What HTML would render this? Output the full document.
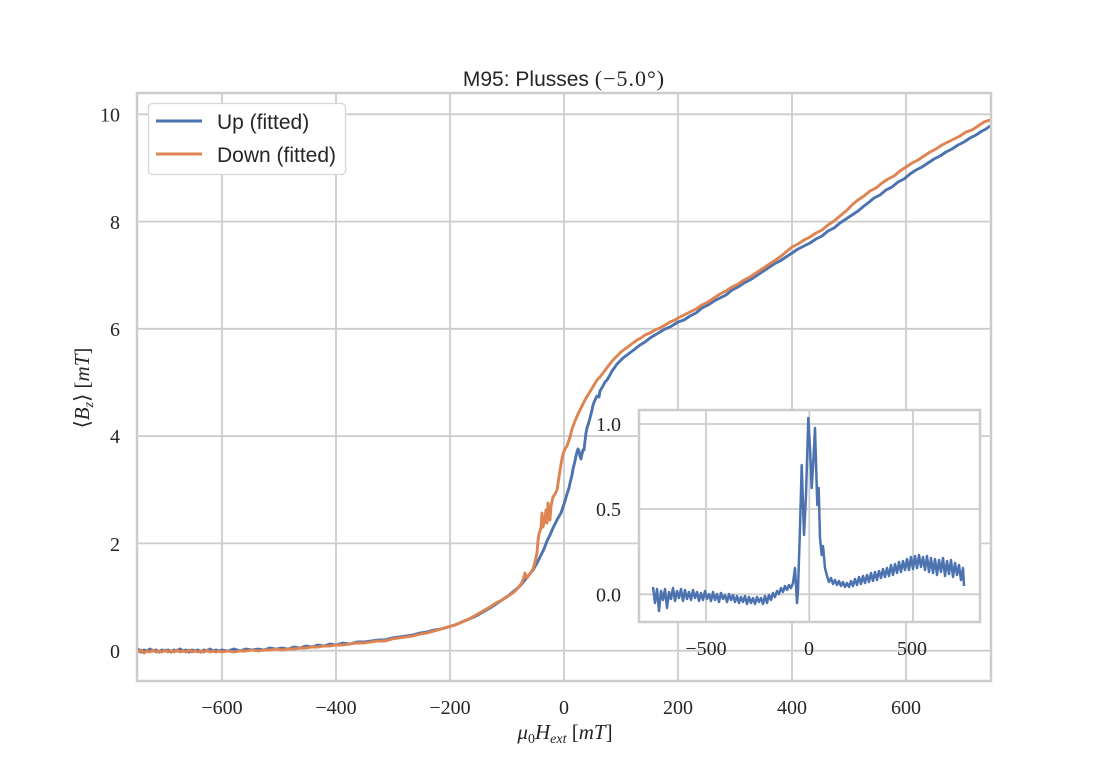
<!DOCTYPE html>
<html>
<head>
<meta charset="utf-8">
<style>
  html, body { margin: 0; padding: 0; background: #ffffff; }
  svg { display: block; }
  .tick { font-family: "Liberation Serif", "DejaVu Serif", serif; font-size: 20px; fill: #262626; }
  .sans { font-family: "Liberation Sans", "DejaVu Sans", sans-serif; fill: #262626; }
  .serif { font-family: "Liberation Serif", "DejaVu Serif", serif; fill: #262626; }
</style>
</head>
<body>
<svg width="1101" height="779" viewBox="0 0 1101 779" xmlns="http://www.w3.org/2000/svg">
  <rect x="0" y="0" width="1101" height="779" fill="#ffffff"/>
  <defs>
    <clipPath id="mainclip"><rect x="137" y="93" width="854" height="588"/></clipPath>
  </defs>

  <!-- main grid -->
  <g stroke="#cccccc" stroke-width="1.8" fill="none">
    <line x1="222" y1="93" x2="222" y2="681"/>
    <line x1="336" y1="93" x2="336" y2="681"/>
    <line x1="450" y1="93" x2="450" y2="681"/>
    <line x1="564" y1="93" x2="564" y2="681"/>
    <line x1="678" y1="93" x2="678" y2="681"/>
    <line x1="792" y1="93" x2="792" y2="681"/>
    <line x1="906" y1="93" x2="906" y2="681"/>
    <line x1="137" y1="650.7" x2="991" y2="650.7"/>
    <line x1="137" y1="543.4" x2="991" y2="543.4"/>
    <line x1="137" y1="436.1" x2="991" y2="436.1"/>
    <line x1="137" y1="328.8" x2="991" y2="328.8"/>
    <line x1="137" y1="221.6" x2="991" y2="221.6"/>
    <line x1="137" y1="114.3" x2="991" y2="114.3"/>
  </g>

  <!-- main curves -->
  <g clip-path="url(#mainclip)" fill="none" stroke-width="2.9" stroke-linejoin="round" stroke-linecap="round">
    <polyline stroke="#4C72B0" points="138,649 141,652 144,650 147,651 150,649 153,651 156,650 159,652 162,650 165,651 168,650 171,652 174,650 177,651 180,649 183,651 186,650 189,652 192,650 195,651 198,650 201,652 204,650 207,651 210,649 213,651 216,650 219,651 222,650 228,651 234,649 240,651 246,649 252,650 258,649 264,650 270,648 276,649 282,648 288,649 294,647 300,648 306,646 312,647 318,645 324,646 330,644 336,645 343,643 350,644 357,642 364,642 371,641 378,640 385,640 392,638 399,637 406,636 413,635 420,633 427,632 434,630 441,629 448,627 455,625 462,622 469,619 476,616 483,612 490,608 496,604 502,600 508,596 514,591 520,586 525,580 529,575 533,570 537,563 540,557 544,549 547,541 550,535 553,528 556,522 558,518 561,513 563,507 565,501 567,494 569,488 570,483 572,475 573,469 575,461 576,456 577,452 578,449 579,451 580,456 581,459 582,454 583,450 584,450 585,441 586,433 587,428 588,425 590,418 592,410 593,405 595,400 597,396 599,397 600,391 603,386 605,382 607,380 610,375 612,371 615,367 617,364 620,361 623,358 627,355 631,352 635,349 640,345 645,342 650,338 655,335 660,332 665,329 670,327 675,324 678,322 684,320 690,316 696,313 702,308 708,305 714,301 720,298 726,295 732,290 738,287 744,283 750,280 756,276 762,272 768,268 774,264 780,261 786,257 792,253 798,249 804,246 810,243 816,239 822,236 828,231 834,228 840,223 846,219 852,215 858,211 864,206 868,203 874,198 880,195 886,190 892,187 898,182 904,179 910,174 916,170 922,167 928,163 934,159 940,156 946,152 952,149 958,145 964,142 970,138 976,135 982,131 986,129 990,126"/>
    <polyline stroke="#DD8452" points="138,652 141,650 144,653 147,651 150,652 153,650 156,652 159,651 162,652 165,650 168,652 171,651 174,652 177,650 180,652 183,651 186,652 189,650 192,652 195,651 198,652 201,651 204,652 207,650 210,652 213,651 216,652 219,651 222,652 228,651 234,652 240,651 246,651 252,650 258,651 264,650 270,650 276,649 282,650 288,649 294,649 300,648 306,648 312,647 318,647 324,646 330,646 336,645 343,645 350,644 357,643 364,643 371,642 378,641 385,641 392,639 399,638 406,637 413,636 420,634 427,633 434,631 441,629 448,627 455,625 462,622 469,619 476,615 483,611 490,607 496,603 502,600 508,596 513,593 518,588 521,584 523,580 525,573 527,578 529,575 531,572 533,569 535,562 537,553 538,541 539,534 541,528 542,513 543,527 545,518 546,510 547,523 548,503 550,520 551,506 553,497 555,494 557,490 559,477 561,464 563,454 565,449 567,446 568,443 570,437 572,429 575,421 578,414 581,408 585,400 588,395 591,390 594,385 597,380 600,377 603,373 606,369 609,365 613,360 617,356 621,352 625,349 629,346 633,343 637,340 641,338 645,335 650,333 655,330 660,328 665,325 670,322 675,320 678,318 684,315 690,312 696,309 702,305 708,302 714,298 720,294 726,291 732,287 738,284 744,280 750,277 756,273 762,269 768,265 774,261 780,257 786,252 792,247 798,244 804,240 810,237 816,233 822,230 828,225 834,221 840,216 846,211 850,207 853,204 858,200 864,196 870,191 876,188 882,183 888,179 894,176 900,171 906,167 912,163 918,160 924,156 930,152 936,149 942,145 948,142 954,139 960,136 966,132 972,130 978,126 984,122 990,120"/>
  </g>

  <!-- main frame -->
  <rect x="137" y="93" width="854" height="588" fill="none" stroke="#cccccc" stroke-width="2.5"/>

  <!-- legend -->
  <rect x="148.5" y="103.5" width="197" height="71" rx="4" ry="4" fill="#ffffff" stroke="#d6d6d6" stroke-width="1.3"/>
  <line x1="156" y1="121" x2="202" y2="121" stroke="#4C72B0" stroke-width="3"/>
  <line x1="156" y1="154" x2="202" y2="154" stroke="#DD8452" stroke-width="3"/>
  <text class="sans" x="217" y="129" font-size="21">Up (fitted)</text>
  <text class="sans" x="217" y="162" font-size="21">Down (fitted)</text>

  <!-- main x tick labels -->
  <g class="tick" text-anchor="middle">
    <text x="222" y="714">−600</text>
    <text x="336" y="714">−400</text>
    <text x="450" y="714">−200</text>
    <text x="564" y="714">0</text>
    <text x="678" y="714">200</text>
    <text x="792" y="714">400</text>
    <text x="906" y="714">600</text>
  </g>
  <!-- main y tick labels -->
  <g class="tick" text-anchor="end">
    <text x="120" y="658">0</text>
    <text x="120" y="551">2</text>
    <text x="120" y="443">4</text>
    <text x="120" y="336">6</text>
    <text x="120" y="229">8</text>
    <text x="120" y="121.5">10</text>
  </g>

  <!-- title -->
  <text x="564" y="86" text-anchor="middle"><tspan class="sans" font-size="21">M95:  Plusses </tspan><tspan class="serif" font-size="22" letter-spacing="1">(−5.0°)</tspan></text>

  <!-- x label -->
  <text class="serif" x="565" y="739" text-anchor="middle" font-size="21"><tspan font-style="italic">μ</tspan><tspan font-size="14" dy="4">0</tspan><tspan font-style="italic" dy="-4">H</tspan><tspan font-style="italic" font-size="14" dy="4">ext</tspan><tspan dy="-4"> [</tspan><tspan font-style="italic">mT</tspan><tspan>]</tspan></text>

  <!-- y label -->
  <text class="serif" transform="translate(89,388) rotate(-90)" text-anchor="middle" font-size="21">⟨<tspan font-style="italic">B</tspan><tspan font-style="italic" font-size="14" dy="4">z</tspan><tspan dy="-4">⟩ [</tspan><tspan font-style="italic">mT</tspan>]</text>

  <!-- inset -->
  <rect x="639" y="410" width="341" height="212" fill="#ffffff"/>
  <g stroke="#cccccc" stroke-width="1.8" fill="none">
    <line x1="706" y1="410" x2="706" y2="622"/>
    <line x1="809.3" y1="410" x2="809.3" y2="622"/>
    <line x1="913" y1="410" x2="913" y2="622"/>
    <line x1="639" y1="424" x2="980" y2="424"/>
    <line x1="639" y1="509" x2="980" y2="509"/>
    <line x1="639" y1="594.3" x2="980" y2="594.3"/>
  </g>
  <polyline fill="none" stroke="#4C72B0" stroke-width="2.5" stroke-linejoin="round" points="653,587 655,603 657,589 659,611 661,591 663,600 665,589 667,608 669,592 671,599 673,588 675,601 677,591 679,598 681,589 683,601 685,590 687,599 689,592 691,600 693,590 695,598 697,592 699,601 701,593 703,600 705,591 707,599 709,594 711,601 713,592 715,600 717,594 719,602 721,593 723,599 725,595 727,602 729,594 731,600 733,595 735,602 737,596 739,603 741,597 743,602 745,596 747,604 749,597 751,603 753,598 755,604 757,597 759,602 761,598 763,604 765,596 767,603 769,595 771,600 773,593 775,597 777,591 779,594 781,588 783,592 785,586 787,590 789,585 791,588 793,583 795,568 796,586 797,603 798,590 800,528 801.7,465 802.7,495 804,535 806,495 808.3,418 810,448 811.7,488 813.3,462 815,428 816,462 817.3,505 818.7,488 820,538 821.7,555 823,546 825,568 827,576 829,582 831,578 833,584 835,580 837,585 839,581 841,586 843,582 845,587 847,583 849,587 851,581 853,586 855,579 857,585 859,577 861,584 863,576 865,583 867,575 869,582 871,573 873,581 875,572 877,580 879,571 881,578 883,569 885,577 887,568 889,576 891,565 893,575 895,564 897,573 899,562 901,572 903,561 905,570 907,559 909,570 911,557 913,569 915,556 917,568 919,555 921,567 923,557 925,570 927,556 929,572 931,558 933,573 935,559 937,575 939,560 941,572 943,558 945,576 947,561 949,574 951,560 953,577 955,563 957,575 959,565 961,580 963,568 964,586"/>
  <rect x="639" y="410" width="341" height="212" fill="none" stroke="#cccccc" stroke-width="2.5"/>

  <!-- inset tick labels -->
  <g class="tick" text-anchor="end">
    <text x="621" y="431">1.0</text>
    <text x="621" y="516">0.5</text>
    <text x="621" y="601.5">0.0</text>
  </g>
  <g class="tick" text-anchor="middle">
    <text x="706" y="655">−500</text>
    <text x="809" y="655">0</text>
    <text x="912" y="655">500</text>
  </g>
</svg>
</body>
</html>
